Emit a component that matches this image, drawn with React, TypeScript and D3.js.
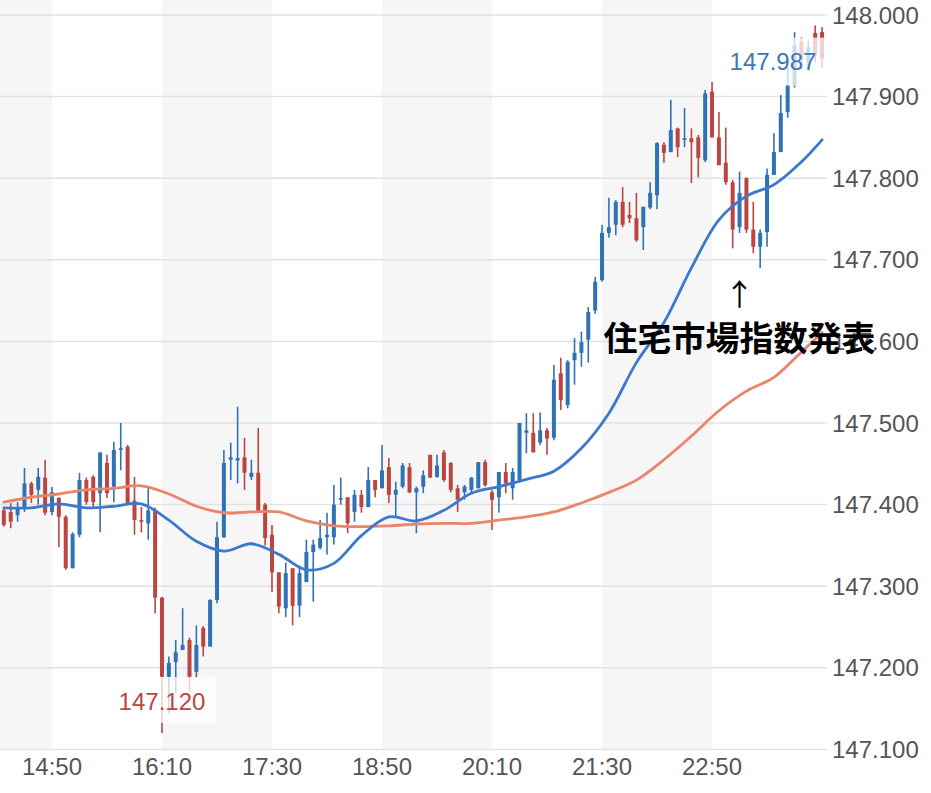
import * as d3 from "d3";

const WIDTH = 931;
const HEIGHT = 793;
const PLOT = { left: 0, right: 827, top: 15, bottom: 749.4 };

// 5-minute bars starting 14:15
const FIRST_BAR = "14:15";
const BAR_MINUTES = 5;
const TIME_TICKS = ["14:50", "16:10", "17:30", "18:50", "20:10", "21:30", "22:50"];
const PRICE_TICKS = [148.0, 147.9, 147.8, 147.7, 147.6, 147.5, 147.4, 147.3, 147.2, 147.1];

const OPEN = [
  147.393, 147.391, 147.387, 147.396, 147.426, 147.418, 147.433, 147.391, 147.408, 147.385,
  147.322, 147.363, 147.43, 147.434, 147.414, 147.451, 147.422, 147.467, 147.471, 147.405,
  147.381, 147.377, 147.393, 147.286, 147.189, 147.207, 147.222, 147.234, 147.195, 147.249,
  147.226, 147.283, 147.36, 147.455, 147.454, 147.458, 147.434, 147.439, 147.4, 147.363,
  147.317, 147.273, 147.322, 147.276, 147.305, 147.342, 147.347, 147.36, 147.36, 147.406,
  147.409, 147.391, 147.412, 147.397, 147.43, 147.42, 147.446, 147.412, 147.422, 147.446,
  147.415, 147.422, 147.461, 147.434, 147.464, 147.451, 147.42, 147.415, 147.418, 147.42,
  147.452, 147.415, 147.409, 147.44, 147.42, 147.43, 147.488, 147.488, 147.476, 147.491,
  147.482, 147.561, 147.522, 147.577, 147.586, 147.602, 147.638, 147.675, 147.733, 147.743,
  147.771, 147.755, 147.751, 147.74, 147.764, 147.779, 147.841, 147.832, 147.861, 147.847,
  147.849, 147.85, 147.822, 147.906, 147.85, 147.819, 147.795, 147.74, 147.8, 147.737,
  147.716, 147.734, 147.804, 147.832, 147.881, 147.914, 147.967, 147.942, 147.978, 147.979,
];
const HIGH = [
  147.396, 147.402, 147.403, 147.445, 147.428, 147.445, 147.455, 147.422, 147.409, 147.387,
  147.366, 147.439, 147.433, 147.436, 147.464, 147.461, 147.477, 147.5, 147.473, 147.434,
  147.397, 147.422, 147.396, 147.287, 147.214, 147.234, 147.273, 147.237, 147.252, 147.251,
  147.284, 147.379, 147.467, 147.476, 147.52, 147.482, 147.455, 147.494, 147.402, 147.375,
  147.317, 147.329, 147.322, 147.325, 147.357, 147.357, 147.381, 147.39, 147.424, 147.433,
  147.409, 147.418, 147.418, 147.446, 147.43, 147.473, 147.457, 147.428, 147.451, 147.451,
  147.422, 147.442, 147.461, 147.461, 147.467, 147.452, 147.424, 147.424, 147.434, 147.452,
  147.455, 147.418, 147.44, 147.451, 147.445, 147.5, 147.512, 147.512, 147.513, 147.494,
  147.571, 147.58, 147.577, 147.604, 147.612, 147.642, 147.679, 147.743, 147.776, 147.773,
  147.789, 147.771, 147.782, 147.765, 147.795, 147.844, 147.844, 147.896, 147.862, 147.886,
  147.861, 147.853, 147.908, 147.918, 147.881, 147.862, 147.798, 147.808, 147.801, 147.771,
  147.737, 147.812, 147.855, 147.902, 147.936, 147.979, 147.973, 147.969, 147.987, 147.985,
];
const LOW = [
  147.373, 147.371, 147.379, 147.391, 147.402, 147.4, 147.387, 147.387, 147.348, 147.32,
  147.322, 147.36, 147.4, 147.397, 147.366, 147.408, 147.403, 147.442, 147.4, 147.363,
  147.366, 147.357, 147.267, 147.12, 147.144, 147.169, 147.222, 147.171, 147.188, 147.214,
  147.226, 147.279, 147.359, 147.43, 147.426, 147.418, 147.43, 147.39, 147.35, 147.293,
  147.267, 147.262, 147.252, 147.262, 147.305, 147.281, 147.345, 147.339, 147.351, 147.4,
  147.365, 147.379, 147.39, 147.397, 147.409, 147.42, 147.402, 147.384, 147.42, 147.414,
  147.365, 147.414, 147.433, 147.433, 147.428, 147.415, 147.391, 147.406, 147.415, 147.42,
  147.422, 147.369, 147.39, 147.414, 147.406, 147.43, 147.463, 147.464, 147.473, 147.461,
  147.479, 147.516, 147.518, 147.547, 147.569, 147.574, 147.634, 147.673, 147.727, 147.73,
  147.74, 147.745, 147.722, 147.712, 147.762, 147.762, 147.819, 147.832, 147.826, 147.838,
  147.794, 147.801, 147.82, 147.85, 147.816, 147.792, 147.714, 147.733, 147.733, 147.708,
  147.69, 147.716, 147.804, 147.832, 147.874, 147.911, 147.933, 147.935, 147.942, 147.935,
];
const CLOSE = [
  147.375, 147.379, 147.396, 147.426, 147.412, 147.434, 147.39, 147.415, 147.385, 147.322,
  147.364, 147.43, 147.403, 147.403, 147.464, 147.414, 147.467, 147.469, 147.402, 147.381,
  147.379, 147.393, 147.286, 147.189, 147.206, 147.219, 147.228, 147.189, 147.228, 147.226,
  147.283, 147.36, 147.451, 147.458, 147.457, 147.439, 147.439, 147.391, 147.359, 147.317,
  147.275, 147.316, 147.276, 147.316, 147.342, 147.351, 147.359, 147.363, 147.4, 147.408,
  147.377, 147.412, 147.397, 147.43, 147.418, 147.442, 147.412, 147.418, 147.448, 147.415,
  147.42, 147.436, 147.433, 147.448, 147.43, 147.418, 147.406, 147.422, 147.433, 147.452,
  147.424, 147.406, 147.44, 147.426, 147.44, 147.5, 147.491, 147.464, 147.491, 147.481,
  147.553, 147.528, 147.575, 147.586, 147.599, 147.636, 147.673, 147.733, 147.74, 147.771,
  147.743, 147.751, 147.724, 147.765, 147.782, 147.843, 147.831, 147.859, 147.838, 147.849,
  147.844, 147.825, 147.904, 147.85, 147.816, 147.795, 147.737, 147.782, 147.737, 147.716,
  147.733, 147.804, 147.832, 147.88, 147.914, 147.963, 147.945, 147.961, 147.951, 147.947,
];

// moving averages
const MA_BAR = [0, 4, 8, 12, 16, 20, 24, 28, 32, 36, 40, 44, 48, 52, 56, 60, 64, 68, 72, 76, 80, 84, 88, 92, 96, 100, 104, 108, 112, 116, 119];
const MA_FAST = [
  147.396, 147.396, 147.401, 147.396, 147.398, 147.401, 147.381, 147.355, 147.343, 147.352,
  147.339, 147.32, 147.328, 147.362, 147.385, 147.38, 147.393, 147.414, 147.422, 147.431,
  147.441, 147.469, 147.512, 147.574, 147.623, 147.69, 147.749, 147.778, 147.792, 147.82,
  147.847,
];
const MA_SLOW = [
  147.403, 147.409, 147.413, 147.418, 147.42, 147.423, 147.413, 147.398, 147.39, 147.391,
  147.391, 147.38, 147.374, 147.373, 147.374, 147.376, 147.377, 147.377, 147.381, 147.385,
  147.391, 147.402, 147.415, 147.43, 147.455, 147.484, 147.515, 147.539, 147.556, 147.587,
  147.611,
];

const NOTE = "住宅市場指数発表";
const NOTE_BAR = 107;

const C = {
  band: "#f6f6f6",
  grid: "#e2e2e2",
  up: "#2f72b6",
  down: "#bb4540",
  fast: "#3c78cc",
  slow: "#ea846b",
  axis: "#555555",
};
const NUM_FONT = "'Liberation Sans', Arial, Helvetica, sans-serif";
const CJK_FONT = "'Noto Sans CJK JP', 'Noto Sans', sans-serif";

const t0 = d3.timeParse("%H:%M")(FIRST_BAR) as Date;
const barTime = (i: number) => d3.timeMinute.offset(t0, i * BAR_MINUTES);
const times = OPEN.map((_, i) => barTime(i));
const tickTimes = TIME_TICKS.map((s) => d3.timeParse("%H:%M")(s) as Date);

const x = d3
  .scaleTime()
  .domain([new Date(+times[0] - 2.8 * 60000), new Date(+times[times.length - 1] + 3.6 * 60000)])
  .range([PLOT.left, PLOT.right]);
const y = d3.scaleLinear().domain([147.1, 148.0]).range([PLOT.bottom, PLOT.top]);
const fmt = d3.format(".3f");

function Bands() {
  const edges = [x.domain()[0], ...tickTimes, x.domain()[1]];
  return (
    <g>
      {edges.slice(0, -1).map((d, k) =>
        k % 2 === 0 ? (
          <rect key={k} x={x(d)} y={0} width={x(edges[k + 1]) - x(d)} height={PLOT.bottom} fill={C.band} />
        ) : null,
      )}
    </g>
  );
}

function Grid() {
  return (
    <g>
      {PRICE_TICKS.map((p) => (
        <g key={p}>
          <line x1={PLOT.left} x2={PLOT.right} y1={y(p)} y2={y(p)} stroke={C.grid} strokeWidth={1.5} />
          <text
            x={832}
            y={y(p)}
            dominantBaseline="central"
            fontFamily={NUM_FONT}
            fontSize={24}
            fill={C.axis}
          >
            {fmt(p)}
          </text>
        </g>
      ))}
      {tickTimes.map((t, k) => (
        <text
          key={k}
          x={x(t)}
          y={766}
          textAnchor="middle"
          dominantBaseline="central"
          fontFamily={NUM_FONT}
          fontSize={24}
          fill={C.axis}
        >
          {TIME_TICKS[k]}
        </text>
      ))}
    </g>
  );
}

function Candles() {
  return (
    <g>
      {times.map((t, i) => {
        const up = CLOSE[i] >= OPEN[i];
        const col = up ? C.up : C.down;
        const cx = x(t);
        const top = y(Math.max(OPEN[i], CLOSE[i]));
        const bot = y(Math.min(OPEN[i], CLOSE[i]));
        return (
          <g key={i}>
            <line x1={cx} x2={cx} y1={y(HIGH[i])} y2={y(LOW[i])} stroke={col} strokeWidth={1.6} />
            <rect x={cx - 2} y={top} width={4} height={Math.max(1.2, bot - top)} fill={col} />
          </g>
        );
      })}
    </g>
  );
}

function MovingAverages() {
  const line = d3
    .line<number>()
    .x((_, k) => x(barTime(MA_BAR[k])))
    .y((v) => y(v))
    .curve(d3.curveCatmullRom);
  return (
    <g fill="none" strokeWidth={2.8} strokeLinecap="round">
      <path d={line(MA_SLOW) ?? ""} stroke={C.slow} />
      <path d={line(MA_FAST) ?? ""} stroke={C.fast} />
    </g>
  );
}

function ExtremeLabels() {
  const lowIdx = d3.minIndex(LOW);
  const highIdx = d3.maxIndex(HIGH);
  const lowText = fmt(LOW[lowIdx]);
  const highText = fmt(HIGH[highIdx]);
  const w = 88;
  const lx = x(times[lowIdx]);
  const ly = y(LOW[lowIdx]) - 32;
  const hx = Math.min(x(times[highIdx]), PLOT.right - 10 - w / 2);
  const hy = y(HIGH[highIdx]) + 36;
  return (
    <g fontFamily={NUM_FONT} fontSize={24}>
      <rect x={lx - w / 2 - 6} y={ly - 24} width={w + 16} height={46} fill="#fff" opacity={0.75} />
      <text x={lx} y={ly} textAnchor="middle" dominantBaseline="central" fill={C.down}>
        {lowText}
      </text>
      <rect x={hx - w / 2 - 6} y={hy - 24} width={w + 18} height={48} fill="#fff" opacity={0.75} />
      <text x={hx} y={hy} textAnchor="middle" dominantBaseline="central" fill="#3b78b5">
        {highText}
      </text>
    </g>
  );
}

function Note() {
  const ax = x(times[NOTE_BAR]);
  const ay = y(LOW[NOTE_BAR + 3]);
  return (
    <g>
      <text x={ax} y={ay + 24} textAnchor="middle" dominantBaseline="central" fontFamily={CJK_FONT} fontSize={30} fill="#000">
        ↑
      </text>
      <text
        x={ax}
        y={ay + 69}
        textAnchor="middle"
        dominantBaseline="central"
        fontFamily={CJK_FONT}
        fontWeight={700}
        fontSize={34}
        fill="#000"
      >
        {NOTE}
      </text>
    </g>
  );
}

export default function App() {
  return (
    <svg
      width={WIDTH}
      height={HEIGHT}
      viewBox={`0 0 ${WIDTH} ${HEIGHT}`}
      style={{ position: "absolute", left: 0, top: 0, background: "#fff" }}
    >
      <rect width={WIDTH} height={HEIGHT} fill="#fff" />
      <Bands />
      <Grid />
      <Candles />
      <MovingAverages />
      <ExtremeLabels />
      <Note />
    </svg>
  );
}
